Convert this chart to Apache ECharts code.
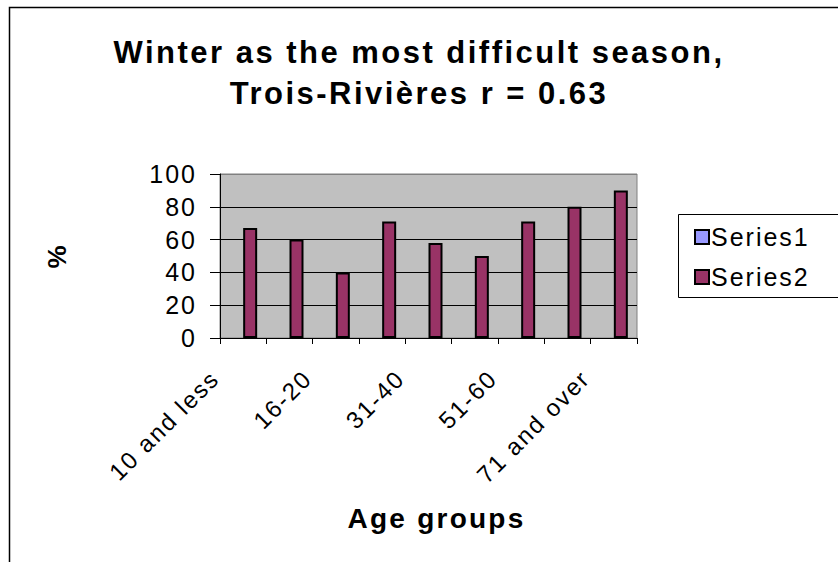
<!DOCTYPE html>
<html>
<head>
<meta charset="utf-8">
<script src="https://cdn.jsdelivr.net/npm/echarts@6/dist/echarts.min.js"></script>
<style>
html,body{margin:0;padding:0;background:#fff}
#c{width:838px;height:562px}
#c svg text{letter-spacing:0.08em}
</style>
</head>
<body>
<div id="c"></div>
<script>
const categories = ["10 and less", "11-15", "16-20", "21-30", "31-40", "41-50", "51-60", "61-70", "71 and over"];
const series1 = [null, null, null, null, null, null, null, null, null];
const series2 = [67, 60, 40, 71, 58, 50, 71, 80, 90];
const yTicks = { min: 0, max: 100, interval: 20 };
const titleLines = ["Winter as the most difficult season,", "Trois-Rivières r = 0.63"];

const chart = echarts.init(document.getElementById('c'), null, { renderer: 'svg' });
const FONT = '"Liberation Sans", Arial, sans-serif';
chart.setOption({
  animation: false,
  backgroundColor: '#ffffff',
  title: {
    text: titleLines.join('\n'),
    left: 'center',
    top: 27,
    textStyle: { fontFamily: FONT, fontWeight: 'bold', fontSize: 31, lineHeight: 41, color: '#000' }
  },
  graphic: [
    { type: 'rect', shape: { x: 9.5, y: 7.5, width: 900, height: 700 }, style: { fill: 'none', stroke: '#000', lineWidth: 1.5 }, z: 0 },
    { type: 'rect', shape: { x: 678.5, y: 214.5, width: 300, height: 83 }, style: { fill: '#fff', stroke: '#000', lineWidth: 1 }, z: 1 }
  ],
  legend: {
    orient: 'vertical',
    left: 689,
    top: 219,
    itemWidth: 14,
    itemHeight: 14,
    itemGap: 14,
    icon: 'rect',
    z: 5,
    textStyle: { fontFamily: FONT, fontSize: 25, lineHeight: 26, color: '#000', padding: [0, 0, 0, -3] },
    data: ['Series1', 'Series2']
  },
  grid: {
    left: 220, right: 201, top: 174, bottom: 224,
    show: true, backgroundColor: '#c0c0c0', borderColor: '#808080', borderWidth: 1
  },
  xAxis: {
    type: 'category',
    data: categories,
    name: 'Age groups',
    nameLocation: 'middle',
    nameGap: 166,
    nameTextStyle: { fontFamily: FONT, fontWeight: 'bold', fontSize: 28, color: '#000', padding: [0, 0, 0, 16] },
    axisLine: { lineStyle: { color: '#000', width: 1 } },
    axisTick: { show: true, interval: 0, length: 6, lineStyle: { color: '#000' } },
    axisLabel: { interval: 1, rotate: 45, margin: 8, fontFamily: FONT, fontSize: 24, color: '#000', padding: [0, 40, 0, 0] },
    splitLine: { show: false }
  },
  yAxis: {
    type: 'value',
    min: yTicks.min, max: yTicks.max, interval: yTicks.interval,
    name: '%',
    nameLocation: 'middle',
    nameGap: 150,
    nameTextStyle: { fontFamily: FONT, fontWeight: 'bold', fontSize: 26, color: '#000' },
    axisLine: { show: true, lineStyle: { color: '#000', width: 1 } },
    axisTick: { show: true, length: 10, lineStyle: { color: '#000' } },
    axisLabel: { margin: 23, fontFamily: FONT, fontSize: 25, color: '#000' },
    splitLine: { show: true, lineStyle: { color: ['#000', '#000', '#000', '#000', '#000', '#808080'], width: 1 } }
  },
  series: [
    { name: 'Series1', type: 'bar', data: series1, barWidth: 14, barGap: '0%',
      itemStyle: { color: '#9999ff', borderColor: '#000', borderWidth: 2 } },
    { name: 'Series2', type: 'bar', data: series2, barWidth: 14, barGap: '0%',
      itemStyle: { color: '#993366', borderColor: '#000', borderWidth: 2 } }
  ]
});
</script>
</body>
</html>
